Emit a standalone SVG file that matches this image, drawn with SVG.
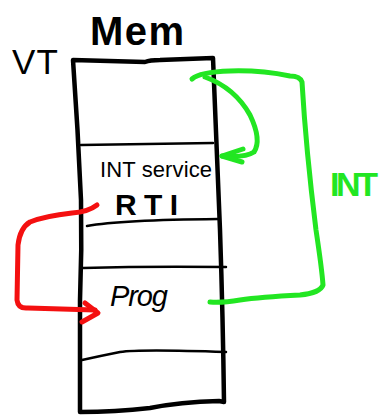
<svg xmlns="http://www.w3.org/2000/svg" width="381" height="415" viewBox="0 0 381 415">
<style>
.box{fill:none;stroke:#000;stroke-width:4.5;stroke-linecap:round;stroke-linejoin:round}
.div{fill:none;stroke:#000;stroke-width:2.5;stroke-linecap:round}
.txt{font-family:"Liberation Sans","DejaVu Sans",sans-serif;fill:#000}
.g{fill:none;stroke:#22e622;stroke-width:5;stroke-linecap:round;stroke-linejoin:round}
.r{fill:none;stroke:#f41010;stroke-width:5;stroke-linecap:round;stroke-linejoin:round}
</style>
<rect width="381" height="415" fill="#fff"/>
<g id="title">
<text class="txt" x="137" y="45" font-size="40" font-weight="bold" text-anchor="middle" textLength="94">Mem</text>
</g>
<g id="vt-label">
<text class="txt" x="12" y="74" font-size="35" textLength="46">VT</text>
</g>
<g id="memory">
<path class="box" d="M73,60 Q110,61 145,62 Q150,60 160,60 L213,58 Q216,140 220,230 Q223,320 224,402 L219,401 Q180,402 150,408 Q115,412 80,412 Q80,350 80,300 Q82,250 81,200 Q78,130 73,60 Z"/>
<path class="div" d="M81,145 L213,143"/>
<path class="div" d="M87,226 Q120,220 218,219"/>
<path class="div" d="M83,268 Q150,266 226,267"/>
<path class="div" d="M82,360 Q100,356 120,352 Q140,349 226,352"/>
</g>
<g id="int-service">
<text class="txt" x="100" y="177" font-size="22" textLength="112">INT service</text>
</g>
<g id="rti">
<text class="txt" x="115" y="215" font-size="30" font-weight="bold" textLength="63">RTI</text>
</g>
<g id="prog">
<text class="txt" x="110" y="306" font-size="29" font-style="italic" textLength="58">Prog</text>
</g>
<g id="int-label">
<text class="txt" x="330" y="196" font-size="34" font-weight="bold" fill="#22e622" style="fill:#22e622" textLength="48">INT</text>
</g>
<g id="connectors">
<path class="g" d="M192,79 Q200,72 230,71 Q260,70 290,76 Q300,76 302,82 Q306,150 316,230 Q322,270 323,285 Q320,293 300,295 Q260,297 240,300 Q222,303 210,302"/>
<path class="g" d="M205,77 Q235,88 250,115 Q262,140 254,152 Q245,158 222,156"/>
<path class="g" d="M243,149 L222,156 L242,162"/>
<path class="r" d="M97,205 Q88,212 72,213 Q45,216 30,222 Q20,228 18,245 L17,300 Q18,309 28,308 L95,310"/>
<path class="r" d="M85,303 L98,313 L82,322"/>
</g>
</svg>
